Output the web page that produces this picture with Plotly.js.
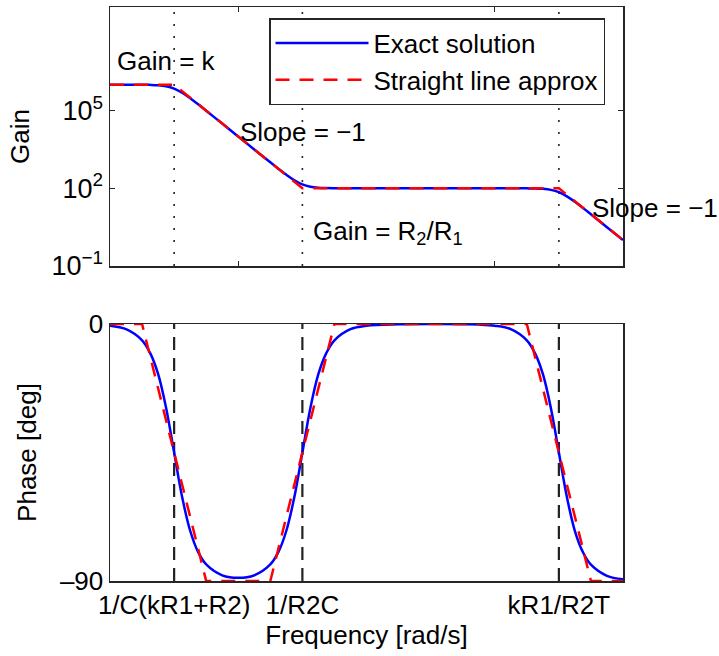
<!DOCTYPE html>
<html>
<head>
<meta charset="utf-8">
<script src="https://cdn.plot.ly/plotly-3.0.1.min.js"></script>
<style>
  html, body { margin: 0; padding: 0; background: #fff; }
  #chart { width: 719px; height: 656px; }
</style>
</head>
<body>
<div id="chart"></div>
<script>
// ---------- data ----------
// frequency samples [rad/s] for the exact response
const freqExact = [1e-4, 3.162e-4, 1e-3, 1.778e-3, 3.162e-3, 5.623e-3, 1e-2, 1.778e-2, 3.162e-2, 5.623e-2,
  1e-1, 3.162e-1, 1, 3.162, 10, 17.78, 31.62, 56.23, 100, 177.8, 316.2, 562.3, 1e3, 3.162e3,
  1e4, 1e5, 1e6, 1e7, 3.162e7, 1e8, 3.162e8, 1e9, 1.778e9, 3.162e9, 5.623e9,
  1e10, 1.778e10, 3.162e10, 5.623e10, 1e11, 3.162e11, 1e12];
// exact gain
const gainExact = [1.0e6, 1.0e6, 9.95e5, 9.85e5, 9.53e5, 8.71e5, 7.07e5, 4.90e5, 3.02e5, 1.75e5,
  9.95e4, 3.16e4, 1.0e4, 3.16e3, 1.005e3, 571, 332, 204, 141, 115, 105, 101.6, 100.5, 100,
  100, 100, 100, 100, 100, 100, 100, 99.5, 98.5, 95.3, 87.1,
  70.7, 49.0, 30.2, 17.5, 9.95, 3.16, 1.0];
// exact phase [deg]
const phaseExact = [-0.6, -1.8, -5.7, -10.1, -17.5, -29.4, -45.0, -60.6, -72.4, -79.9,
  -84.2, -88.0, -88.9, -88.0, -84.2, -79.9, -72.4, -60.6, -45.0, -29.4, -17.5, -10.1, -5.7, -1.8,
  -0.6, -0.1, 0.0, -0.1, -0.2, -0.6, -1.8, -5.7, -10.1, -17.5, -29.4,
  -45.0, -60.6, -72.5, -79.9, -84.3, -88.2, -89.4];

// straight-line approximations (breakpoints)
const gainApproxFreq = [1e-4, 1e-2, 1e2, 1e10, 1e12];
const gainApprox = [1e6, 1e6, 1e2, 1e2, 1];
const phaseApproxFreq = [1e-4, 1e-3, 1e-1, 1e1, 1e3, 1e9, 1e11, 1e12];
const phaseApprox = [0, 0, -90, -90, 0, 0, -90, -90];

// corner frequencies and their labels
const cornerFreqs = [1e-2, 1e2, 1e10];
const cornerLabels = ['1/C(kR1+R2)', '1/R2C', 'kR1/R2T'];

// tick labels
const gainTickVals = [0.1, 100, 1e5];
const gainTickText = ['10<sup>\u22121</sup>', '10<sup>2</sup>', '10<sup>5</sup>'];
const gainXTickVals = [1, 1e8];
const phaseTickVals = [-90, 0];
const phaseTickText = ['\u201390', '0'];

const seriesNames = ['Exact solution', 'Straight line approx'];

// ---------- helpers ----------
const W = 719, H = 656;
const px = v => v / W;
const py = v => 1 - v / H;
const FS = 26;

function vlines(xs, y0, y1) {
  const x = [], y = [];
  xs.forEach(c => { x.push(c, c, null); y.push(y0, y1, null); });
  return {x, y};
}

const topV = vlines(cornerFreqs, 0.1, 1e9);
const botV = vlines(cornerFreqs, -90, 0);

const BLUE = '#0000ff', RED = '#ff0000';
const traces = [
  {x: topV.x, y: topV.y, xaxis: 'x', yaxis: 'y', mode: 'lines', showlegend: false, hoverinfo: 'skip',
   line: {color: '#222', width: 1.6, dash: '2px,10px'}},
  {x: botV.x, y: botV.y, xaxis: 'x2', yaxis: 'y2', mode: 'lines', showlegend: false, hoverinfo: 'skip',
   line: {color: '#222', width: 2.2, dash: '13px,8px'}},
  {x: freqExact, y: gainExact, xaxis: 'x', yaxis: 'y', mode: 'lines', name: seriesNames[0],
   line: {color: BLUE, width: 2.5, shape: 'spline'}},
  {x: gainApproxFreq, y: gainApprox, xaxis: 'x', yaxis: 'y', mode: 'lines', name: seriesNames[1],
   line: {color: RED, width: 2.5, dash: '14px,10px'}},
  {x: freqExact, y: phaseExact, xaxis: 'x2', yaxis: 'y2', mode: 'lines', showlegend: false,
   line: {color: BLUE, width: 2.5, shape: 'spline'}},
  {x: phaseApproxFreq, y: phaseApprox, xaxis: 'x2', yaxis: 'y2', mode: 'lines', showlegend: false,
   line: {color: RED, width: 2.5, dash: '14px,10px'}}
];

const AX = {showline: true, linecolor: '#262626', linewidth: 1.5, mirror: 'ticks', ticks: 'inside',
  ticklen: 5, tickwidth: 1.2, tickcolor: '#262626', showgrid: false, zeroline: false,
  tickfont: {size: FS}};
const xDom = [px(110), px(623)];
const FONT = 'Liberation Sans, Arial, Helvetica, sans-serif';

const ann = (text, x, y) => ({text, x: px(x), y: py(y), xref: 'paper', yref: 'paper',
  xanchor: 'left', yanchor: 'middle', showarrow: false, font: {size: FS, color: '#000'}});

const layout = {
  width: W, height: H,
  margin: {l: 0, r: 0, t: 0, b: 0},
  paper_bgcolor: '#fff', plot_bgcolor: '#fff',
  font: {family: FONT, size: FS, color: '#000'},
  showlegend: true,
  legend: {x: px(269), y: py(18), xanchor: 'left', yanchor: 'top', bordercolor: '#262626', borderwidth: 1.5,
    bgcolor: '#fff', font: {size: FS}, itemwidth: 93, tracegroupgap: 0},
  xaxis: Object.assign({}, AX, {type: 'log', domain: xDom, range: [-4, 12], anchor: 'y',
    tickvals: gainXTickVals, showticklabels: false}),
  yaxis: Object.assign({}, AX, {type: 'log', domain: [py(266), py(7)], range: [-1, 9], anchor: 'x',
    tickvals: gainTickVals, ticktext: gainTickText, tickfont: {size: 27},
    title: {text: 'Gain', standoff: 14, font: {size: FS}}}),
  xaxis2: Object.assign({}, AX, {type: 'log', domain: xDom, range: [-4, 12], anchor: 'y2',
    tickvals: cornerFreqs, ticktext: cornerLabels,
    title: {text: 'Frequency [rad/s]', standoff: 6, font: {size: FS}}}),
  yaxis2: Object.assign({}, AX, {domain: [py(581), py(324)], range: [-90, 0], anchor: 'x2',
    tickvals: phaseTickVals, ticktext: phaseTickText,
    title: {text: 'Phase [deg]', standoff: 16, font: {size: FS}}}),
  annotations: [
    ann('Gain = k', 115, 61),
    ann('Slope = \u22121', 238, 132),
    ann('Gain = R<sub>2</sub>/R<sub>1</sub>', 311, 232),
    ann('Slope = \u22121', 590, 208)
  ]
};

Plotly.newPlot('chart', traces, layout, {staticPlot: true});
</script>
</body>
</html>
